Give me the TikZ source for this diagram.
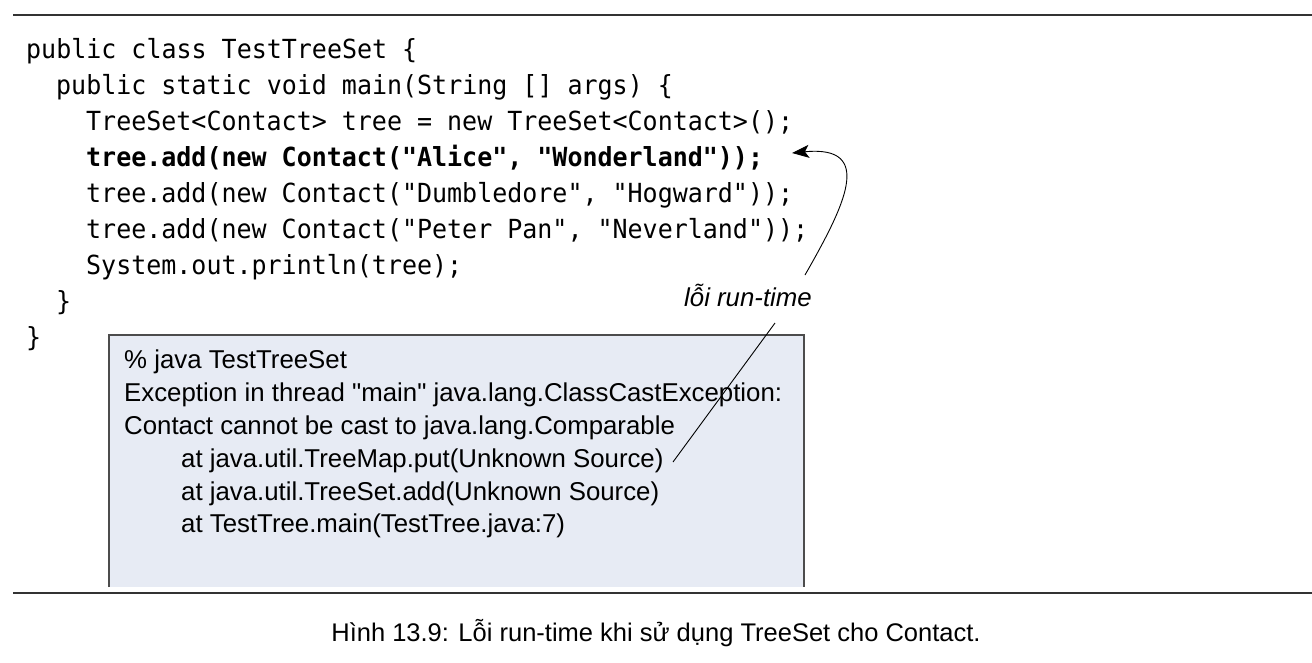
\documentclass[tikz,border=0pt]{standalone}
\usepackage{fontspec}
\setmainfont{Liberation Sans}
\newfontfamily\boxfont{Liberation Sans}
\newfontfamily\codefont[FakeStretch=0.95]{DejaVu Sans Mono}
\usetikzlibrary{arrows.meta}
\definecolor{boxfill}{HTML}{E7EBF4}
\definecolor{rulecol}{HTML}{333333}
\begin{document}
\begin{tikzpicture}[x=1pt,y=-1pt,
  codeline/.style={anchor=base west,inner sep=0pt,font=\codefont\fontsize{26.3}{30}\selectfont},
  outline/.style={anchor=base west,inner sep=0pt,font=\boxfont\fontsize{25.8}{30}\selectfont},
  rulestyle/.style={draw=rulecol,line width=2pt},
  callout/.style={draw=black,line width=0.9pt}]
\useasboundingbox (0,0) rectangle (1312,662);
% rules
\coordinate (t1) at (13,15); \coordinate (t2) at (1312,15);
\coordinate (b1) at (13,593); \coordinate (b2) at (1312,593);
\draw[rulestyle] (t1) -- (t2);
% output box
\fill[boxfill] (109,335) rectangle (804,587);
\draw[draw=black!70,line width=1.2pt] (109,587) -- (109,335) -- (804,335) -- (804,587);
\draw[rulestyle] (b1) -- (b2);
% code
\node[codeline] (c1) at (26,58) {public class TestTreeSet \{};
\node[codeline] (c2) at (56,94) {public static void main(String [] args) \{};
\node[codeline] (c3) at (86,130) {TreeSet<Contact> tree = new TreeSet<Contact>();};
\node[codeline,font=\codefont\bfseries\fontsize{26.3}{30}\selectfont] (c4) at (86,166) {tree.add(new Contact("Alice", "Wonderland"));};
\node[codeline] (c5) at (86,202) {tree.add(new Contact("Dumbledore", "Hogward"));};
\node[codeline] (c6) at (86,238) {tree.add(new Contact("Peter Pan", "Neverland"));};
\node[codeline] (c7) at (86,274) {System.out.println(tree);};
\node[codeline] (c8) at (56,310) {\}};
\node[codeline] (c9) at (26,346) {\}};
% output text
\node[outline] (o1) at (124,368) {\% java TestTreeSet};
\node[outline] (o2) at (124,401) {Exception in thread "main" java.lang.ClassCastException:};
\node[outline] (o3) at (124,434) {Contact cannot be cast to java.lang.Comparable};
\node[outline] (o4) at (181,467) {at java.util.TreeMap.put(Unknown Source)};
\node[outline] (o5) at (181,500) {at java.util.TreeSet.add(Unknown Source)};
\node[outline] (o6) at (181,532) {at TestTree.main(TestTree.java:7)};
% label
\node[anchor=base east,inner sep=0pt,font=\itshape\fontsize{25.8}{30}\selectfont] (lbl) at (812,306) {lỗi run-time};
% connectors
\coordinate (lblTop) at (805,275);
\coordinate (tipA) at (792,153);
\coordinate (lblBot) at (775,323);
\coordinate (tipB) at (673,462);
\draw[callout,-{Stealth[length=17pt,width=13pt,inset=4pt]}] (lblTop) .. controls (845,205) and (875,145) .. (tipA);
\draw[callout] (lblBot) -- (tipB);
% caption
\node[anchor=base,inner sep=0pt,font=\fontsize{25.5}{30}\selectfont] (cap) at (656,641) {Hình 13.9: Lỗi run-time khi sử dụng TreeSet cho Contact.};
\end{tikzpicture}
\end{document}
